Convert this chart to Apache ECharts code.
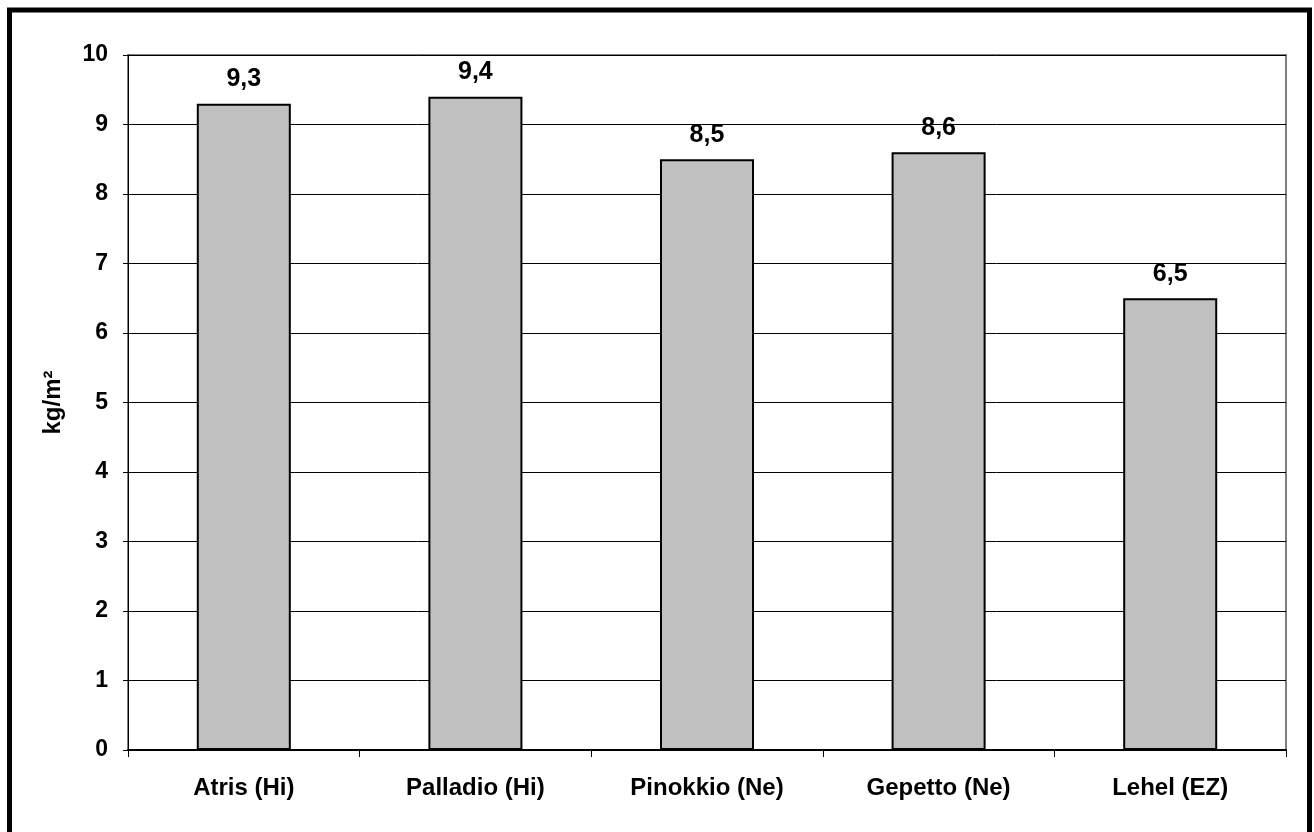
<!DOCTYPE html>
<html>
<head>
<meta charset="utf-8">
<script src="https://cdn.jsdelivr.net/npm/echarts@6/dist/echarts.min.js"></script>
<style>
html,body{margin:0;padding:0;background:#fff;}
#chart{width:1314px;height:832px;}
</style>
</head>
<body>
<div id="chart"></div>
<script>
var categories = ['Atris (Hi)', 'Palladio (Hi)', 'Pinokkio (Ne)', 'Gepetto (Ne)', 'Lehel (EZ)'];
var values = [9.3, 9.4, 8.5, 8.6, 6.5];
var yAxisName = 'kg/m²';

var font = '"Liberation Sans", Arial, sans-serif';
var chart = echarts.init(document.getElementById('chart'));
chart.setOption({
  animation: false,
  backgroundColor: '#fff',
  graphic: [{
    type: 'rect',
    shape: { x: 9.5, y: 10, width: 1300, height: 840 },
    style: { fill: 'none', stroke: '#000', lineWidth: 5 },
    silent: true
  }],
  grid: {
    left: 128, right: 28, top: 55, bottom: 82,
    show: true, borderColor: '#808080', borderWidth: 2, backgroundColor: '#fff'
  },
  xAxis: {
    type: 'category',
    data: categories,
    axisLine: { lineStyle: { color: '#000', width: 2 } },
    axisTick: { show: true, length: 7, lineStyle: { color: '#000', width: 1 } },
    axisLabel: { color: '#000', fontFamily: font, fontWeight: 'bold', fontSize: 24, margin: 26 }
  },
  yAxis: {
    type: 'value',
    min: 0, max: 10, interval: 1,
    name: yAxisName,
    nameLocation: 'middle',
    nameGap: 63,
    nameTextStyle: { color: '#000', fontFamily: font, fontWeight: 'bold', fontSize: 24 },
    axisLine: { show: true, lineStyle: { color: '#000', width: 1 } },
    axisTick: { show: true, length: 5, lineStyle: { color: '#000' } },
    axisLabel: { color: '#000', fontFamily: font, fontWeight: 'bold', fontSize: 23, margin: 20 },
    splitLine: { lineStyle: { color: '#000', width: 1 } }
  },
  series: [{
    type: 'bar',
    data: values,
    barWidth: '40.6%',
    itemStyle: { color: '#C0C0C0', borderColor: '#000', borderWidth: 2 },
    label: {
      show: true, position: 'top', distance: 12,
      color: '#000', fontFamily: font, fontWeight: 'bold', fontSize: 25,
      formatter: function (p) { return String(p.value).replace('.', ','); }
    }
  }]
});
</script>
</body>
</html>
